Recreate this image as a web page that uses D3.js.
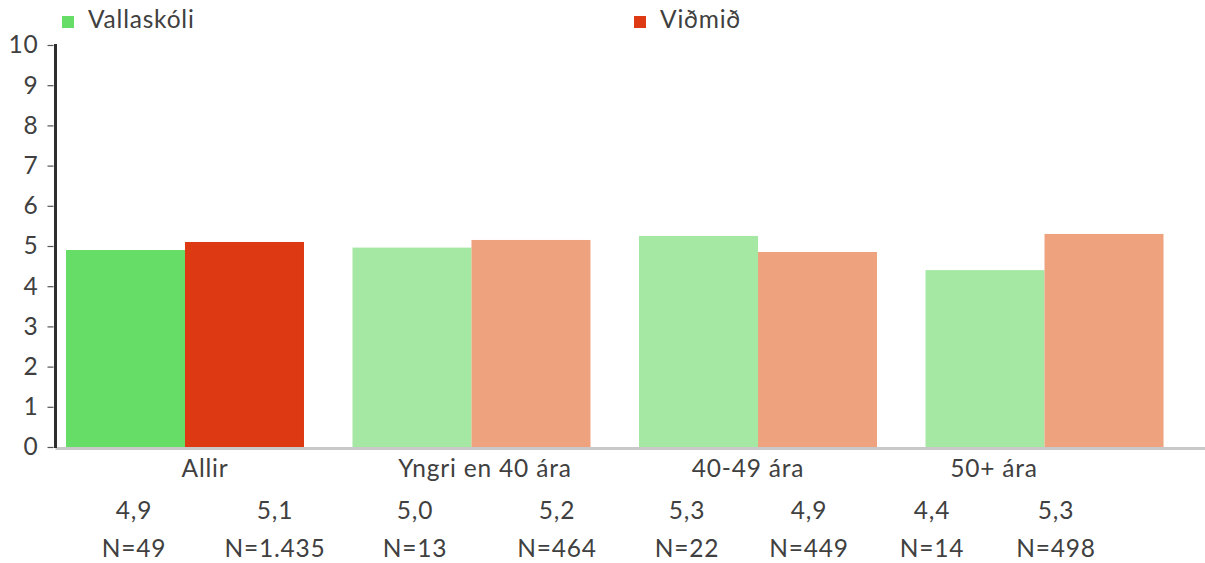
<!DOCTYPE html>
<html>
<head>
<meta charset="utf-8">
<script src="https://cdn.jsdelivr.net/npm/d3@7"></script>
<style>
  html, body { margin: 0; padding: 0; background: #fff; }
  svg { display: block; font-family: Lato, "Open Sans", sans-serif; }
  text { letter-spacing: 0.8px; }
</style>
</head>
<body>
<svg id="chart" width="1205" height="563"></svg>
<script>
// ---- data ----
const categories = ["Allir", "Yngri en 40 ára", "40-49 ára", "50+ ára"];
const seriesNames = ["Vallaskóli", "Viðmið"];
const vallaskoli = [4.90, 4.96, 5.25, 4.40];
const vidmid = [5.10, 5.15, 4.85, 5.30];
const valueLabels = ["4,9", "5,1", "5,0", "5,2", "5,3", "4,9", "4,4", "5,3"];
const nLabels = ["N=49", "N=1.435", "N=13", "N=464", "N=22", "N=449", "N=14", "N=498"];
const yTicks = [0, 1, 2, 3, 4, 5, 6, 7, 8, 9, 10];

// ---- layout ----
const W = 1205, H = 563;
const plot = { left: 55.5, top: 45, bottom: 447, xStart: 41.75, xEnd: 1187.75 };
const strongColors = ["#66dd66", "#dd3a13"];
const lightColors = ["#a4e8a4", "#eea27e"];
const textColor = "#404040";
const fontSize = "24.5px";
const catLabelX = [205, 485, 748, 994];
const tableColX = [134, 275, 415, 557, 687, 809, 932, 1056];

const svg = d3.select("#chart");

const y = d3.scaleLinear().domain([0, 10]).range([plot.bottom, plot.top]);
const x0 = d3.scaleBand().domain(categories).range([plot.xStart, plot.xEnd]).paddingInner(0.1693).paddingOuter(0.0846);
const x1 = d3.scaleBand().domain(seriesNames).range([0, x0.bandwidth()]);

// bars
const rows = categories.map((c, i) => ({ cat: c, i, vals: [vallaskoli[i], vidmid[i]] }));
const g = svg.append("g");
rows.forEach(r => {
  r.vals.forEach((v, s) => {
    g.append("rect")
      .attr("x", x0(r.cat) + x1(seriesNames[s]))
      .attr("y", y(v))
      .attr("width", x1.bandwidth())
      .attr("height", y(0) - y(v))
      .attr("fill", r.i === 0 ? strongColors[s] : lightColors[s]);
  });
});

// baseline
svg.append("line")
  .attr("x1", plot.left).attr("x2", W)
  .attr("y1", y(0) + 1.5).attr("y2", y(0) + 1.5)
  .attr("stroke", "#c8c8c8").attr("stroke-width", 3);

// y axis
const yAxis = d3.axisLeft(y).tickValues(yTicks).tickFormat(d3.format("d")).tickSize(6).tickPadding(9);
const ya = svg.append("g").attr("transform", `translate(${plot.left - 2},0)`).call(yAxis);
ya.select(".domain").remove();
ya.selectAll(".tick line").attr("stroke", "#555").attr("stroke-width", 1.2);
ya.selectAll(".tick text").attr("fill", textColor).style("font-size", fontSize).style("font-family", "Lato, sans-serif");
svg.append("line")
  .attr("x1", plot.left).attr("x2", plot.left)
  .attr("y1", y(10) - 1).attr("y2", y(0) + 1)
  .attr("stroke", "#2e2e2e").attr("stroke-width", 3);

// legend
const legendX = [62, 634];
seriesNames.forEach((n, s) => {
  svg.append("rect").attr("x", legendX[s]).attr("y", 16).attr("width", 12).attr("height", 12).attr("fill", strongColors[s]);
  svg.append("text").attr("x", legendX[s] + 26).attr("y", 28).text(n)
    .attr("fill", textColor).style("font-size", fontSize);
});

// category labels
categories.forEach((c, i) => {
  svg.append("text").attr("x", catLabelX[i]).attr("y", 477).attr("text-anchor", "middle")
    .text(c).attr("fill", textColor).style("font-size", fontSize);
});

// table rows
valueLabels.forEach((t, i) => {
  svg.append("text").attr("x", tableColX[i]).attr("y", 519).attr("text-anchor", "middle")
    .text(t).attr("fill", textColor).style("font-size", fontSize);
});
nLabels.forEach((t, i) => {
  svg.append("text").attr("x", tableColX[i]).attr("y", 557).attr("text-anchor", "middle")
    .text(t).attr("fill", textColor).style("font-size", fontSize);
});
</script>
</body>
</html>
